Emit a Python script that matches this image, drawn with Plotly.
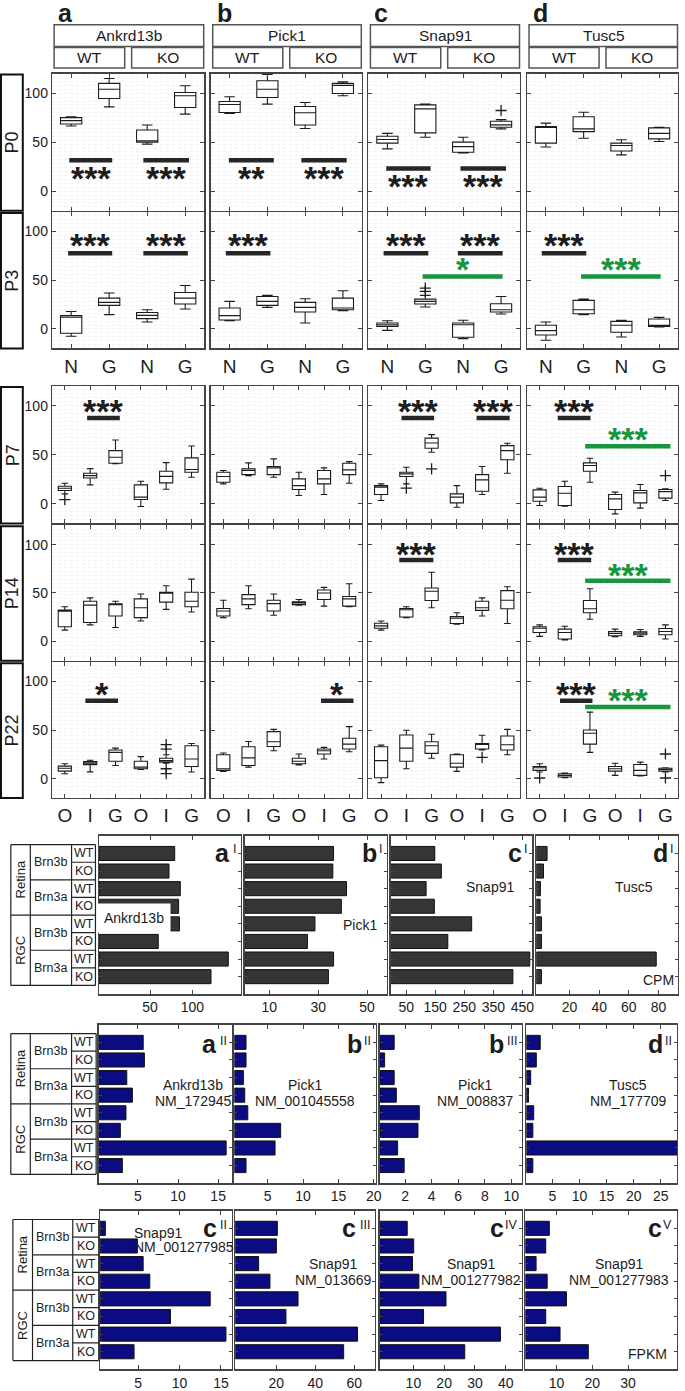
import plotly.graph_objects as go

W, H = 685, 1391

# ---------------- labels ----------------
genes = ["Ankrd13b", "Pick1", "Snap91", "Tusc5"]
panel_letters = ["a", "b", "c", "d"]
genotypes = ["WT", "KO"]
stages = ["P0", "P3", "P7", "P14", "P22"]
early_ticks = ["N", "G", "N", "G"]
late_ticks = ["O", "I", "G", "O", "I", "G"]
y_ticks = [0, 50, 100]

# ---------------- box statistics  [gene][group] ----------------
P0_lo = [[66.5, 86, 48, 78.6], [79.3, 88.8, 64, 97.3], [43.2, 55, 39, 63.6], [45, 54, 37, 50.7]]
P0_q1 = [[68.5, 94.6, 50, 85.4], [80.3, 95.6, 67.5, 99.7], [49, 59.5, 39.7, 65.3], [49, 60.8, 41, 53.4]]
P0_med = [[72, 104, 51.5, 97.3], [88.5, 104, 80, 108], [52.7, 84, 45.5, 67.6], [65.3, 63.6, 46.6, 59]]
P0_q3 = [[75, 110, 62.4, 100.7], [91.5, 112.6, 86.4, 110], [56, 88.1, 50, 71.4], [66, 76, 49, 64.6]]
P0_hi = [[76, 115, 67.5, 107.5], [96.3, 119, 90.5, 111.5], [59, 89, 55, 73], [69.4, 80.6, 52.4, 65.3]]
P0_out = [[], [], [[4, 82.3]], []]

P3_lo = [[-7.5, 14.7, 7.2, 20.5], [8.5, 22.2, 6.1, 18.8], [-1.4, 22.5, -9.9, 15.4], [-11.6, 14.7, -8.2, 2]]
P3_q1 = [[-4.4, 24.2, 10.6, 25.6], [9.2, 24.2, 17.4, 19.8], [2.7, 25.6, -8.5, 17.4], [-6.1, 15.7, -3.4, 2.7]]
P3_med = [[12, 27.3, 14, 31.7], [13.7, 28.3, 22.2, 21.5], [4.4, 28.3, 4.4, 19.8], [-1.7, 19.8, 3.8, 3.8]]
P3_q3 = [[13.7, 31.7, 17, 37.5], [21.5, 33.4, 27.3, 31.7], [6.1, 30.7, 6.1, 25.9], [3.8, 29.4, 7.8, 10.2]]
P3_hi = [[18, 36.9, 19.8, 44.7], [28.3, 34.5, 31, 39.2], [8.5, 34.5, 8.9, 33.4], [7.2, 30.7, 8.9, 11.9]]
P3_out = [[], [], [[2, 38.6], [2, 42]], []]

P7_lo = [[10.2, 19.3, 41, -2.7, 14.9, 27.1], [20.3, 28.8, 27.1, 8.5, 9.5, 21],
         [3.4, 20.3, 52.5, -3.4, 9.5, 31.2], [-1.7, -2.4, 22, -10.2, -4.4, 3.4]]
P7_q1 = [[13.6, 26.4, 41.4, 4.4, 21.4, 32.2], [22, 29.8, 29.8, 14.6, 20.3, 29.8],
         [9.5, 27.8, 56.6, 1, 12.9, 45], [2.7, -1.7, 33.2, -5.8, 1, 5.8]]
P7_med = [[15.9, 28.8, 47.5, 6.8, 28, 35], [27.8, 33.9, 36.6, 18.6, 25.4, 34.6],
          [17, 30.5, 62, 6.8, 24.4, 54.2], [6.8, 10.8, 39, 5.1, 11.2, 12.5]]
P7_q3 = [[18, 31.2, 54.2, 19.3, 33.2, 46.8], [32.2, 35.6, 38, 25.4, 33.9, 41.4],
         [18.6, 32.2, 67, 10.2, 29.8, 59.3], [14.2, 17.6, 41.7, 9.5, 13.6, 14.6]]
P7_hi = [[21, 35.9, 65, 23, 42, 59], [33.9, 41.7, 45.8, 32.2, 36.6, 43],
         [20.3, 37.3, 70.5, 18.6, 38, 61.7], [15.9, 23, 46.4, 11.9, 19.7, 15.3]]
P7_out = [[[1, 4.4]], [], [[2, 16], [3, 35.6]], [[6, 28.8]]]

P14_lo = [[11.6, 17, 14.3, 21, 33, 30.3], [24.5, 33.7, 26.9, 37.4, 36.4, 35.7],
          [11.6, 24.5, 34.7, 17.7, 26.2, 18.4], [5.1, 1.4, 22.8, 4.8, 5.1, 2.4]]
P14_q1 = [[15, 19.4, 26.2, 24.5, 40.5, 35.7], [26.2, 38, 31.3, 38, 43.2, 36.4],
          [13.6, 25.2, 42.2, 18.4, 32, 33.7], [9.2, 2.4, 29.6, 5.8, 6.8, 6.8]]
P14_med = [[31.3, 37.4, 38, 34.7, 50, 41.5], [31.3, 43.9, 39, 39.8, 50, 43.9],
           [16, 32.7, 51.7, 23.8, 34.7, 42.5], [13.6, 9.2, 33.7, 8.2, 8.5, 10.2]]
P14_q3 = [[32.3, 41.5, 38.8, 43.9, 50.7, 50.7], [34, 48.3, 42.5, 40.8, 53, 46.3],
          [18.7, 34, 55.1, 25.5, 41.5, 52.4], [15, 12.6, 42.2, 10.2, 9.9, 13.3]]
P14_hi = [[35.7, 44.9, 41.5, 49, 57.5, 64.3], [42.5, 57.5, 49, 43.2, 55.8, 59.5],
          [21, 35.7, 71.4, 29.6, 44.9, 56.5], [17, 15.6, 54.4, 12.6, 12.2, 17]]
P14_out = [[], [], [], []]

P22_lo = [[5.1, 7, 13.6, 9.5, 15.9, 6.8], [7.5, 11.9, 28.8, 14.2, 20.3, 27.8],
          [-4.1, 10.2, 21, 7.5, 29.5, 24.7], [6.8, 1, 27.1, 3.4, 2.7, 6.8]]
P22_q1 = [[7.8, 14.5, 18, 10.2, 17, 12.5], [8.5, 13.6, 33.2, 15.3, 25.4, 30.5],
          [1, 18, 26.1, 11.9, 30.5, 29.5], [8.5, 1.7, 35.6, 7.8, 3.4, 7.8]]
P22_med = [[10.8, 16, 27.1, 11.9, 18.6, 20.3], [10.2, 21.4, 38, 18, 28.8, 35.6],
           [18.6, 31.5, 33.9, 15.9, 35.6, 34.9], [11.2, 3.4, 46.8, 10.2, 8.5, 9.5]]
P22_q3 = [[12.9, 17.6, 29.5, 18, 21, 33.9], [24.7, 32.9, 48.5, 21, 30.5, 41.7],
          [32.9, 45, 38, 24.7, 36.3, 44], [12.5, 5.1, 50.2, 12.5, 14.6, 10.8]]
P22_hi = [[15.3, 19, 31.5, 22.7, 24.7, 36.3], [26.4, 38.3, 50.8, 25.4, 32.2, 53.6],
          [34.6, 49.8, 45.8, 25.4, 44.7, 50.8], [15.3, 5.8, 68.5, 15.9, 17, 11.2]]
P22_out = [[[5, 35], [5, 30.5], [5, 10.2], [5, 5.1]], [], [[5, 22]], [[1, 0.7], [6, 25.4], [6, 0.7]]]

# significance: [gene, from, to, level, stars, star level, colour]
P0_sig = [[0, 0.95, 2.08, 31.6, "***", 15.5, "k"], [0, 2.9, 4.1, 31.6, "***", 15.5, "k"],
          [1, 0.98, 2.17, 31.6, "**", 15.5, "k"], [1, 2.9, 4.1, 31.6, "***", 15.5, "k"],
          [2, 0.97, 2.14, 23.1, "***", 7.5, "k"], [2, 2.93, 4.13, 23.1, "***", 7.5, "k"]]
P3_sig = [[0, 0.92, 2.08, 77.8, "***", 88, "k"], [0, 2.9, 4.07, 77.8, "***", 88, "k"],
          [1, 0.9, 2.08, 77.8, "***", 88, "k"],
          [2, 0.9, 2.08, 77.8, "***", 88, "k"], [2, 2.86, 4.04, 77.8, "***", 88, "k"],
          [2, 1.93, 4.04, 53.9, "*", 63.5, "g"],
          [3, 0.89, 2.07, 77.8, "***", 88, "k"], [3, 1.93, 4.04, 53.9, "***", 63.5, "g"]]
P7_sig = [[0, 1.88, 3.17, 87.5, "***", 96.5, "k"],
          [2, 1.81, 3.1, 87.5, "***", 96.5, "k"], [2, 4.78, 6.09, 87.5, "***", 96.5, "k"],
          [3, 1.72, 3.02, 87.5, "***", 96.5, "k"], [3, 2.81, 6.2, 58.6, "***", 68, "g"]]
P14_sig = [[2, 1.72, 3.07, 84, "***", 92, "k"],
           [3, 1.72, 3.05, 84, "***", 92, "k"], [3, 2.81, 6.2, 62.6, "***", 71, "g"]]
P22_sig = [[0, 1.81, 3.1, 80.3, "*", 89, "k"], [1, 4.88, 6.17, 80.3, "*", 89, "k"],
           [3, 1.81, 3.1, 80.3, "***", 89, "k"], [3, 2.81, 6.2, 73.9, "***", 83, "g"]]

# ---------------- expression bars ----------------
bar_sources = ["Retina", "RGC"]
bar_lines = ["Brn3b", "Brn3a", "Brn3b", "Brn3a"]
bar_genotypes = ["WT", "KO", "WT", "KO", "WT", "KO", "WT", "KO"]

cpm_Ankrd13b = [79.1, 72.4, 85.7, 83.7, 84.7, 59.7, 142.3, 121.9]
cpm_Pick1 = [36.3, 36.0, 41.6, 39.5, 28.7, 25.6, 36.3, 34.2]
cpm_Snap91 = [148.5, 171.0, 118.7, 147.0, 275.4, 193.3, 475.4, 417.2]
cpm_Tusc5 = [4.8, 2.4, 0.3, 0.1, 1.0, 1.0, 78.5, 1.0]
cpm_ticks = [[50, 100], [10, 30, 50], [50, 150, 250, 350, 450], [20, 40, 60, 80]]

fpkm_Ankrd13b_NM_172945 = [5.65, 5.8, 3.6, 4.3, 3.5, 2.8, 16.0, 3.05]
fpkm_Pick1_NM_001045558 = [1.95, 1.95, 1.58, 1.77, 2.2, 6.84, 6.05, 1.95]
fpkm_Pick1_NM_008837 = [1.18, 0.46, 1.18, 1.34, 3.07, 2.97, 1.44, 1.93]
fpkm_Tusc5_NM_177709 = [2.76, 2.04, 1.0, 0.6, 1.56, 1.4, 29.0, 1.4]
fpkm_Snap91_NM_001277985 = [1.03, 4.9, 5.6, 6.4, 13.7, 8.9, 15.6, 4.5]
fpkm_Snap91_NM_013669 = [20.6, 20.1, 11.0, 16.8, 31.2, 25.0, 61.7, 54.6]
fpkm_Snap91_NM_001277982 = [8.0, 10.1, 9.7, 11.8, 20.6, 13.3, 38.3, 26.7]
fpkm_Snap91_NM_001277983 = [8.0, 7.0, 4.3, 7.4, 12.8, 7.0, 11.0, 18.9]
fpkm_ticks_row2 = [[5, 10, 15], [5, 10, 15, 20], [2, 4, 6, 8, 10], [5, 10, 15, 20, 25]]
fpkm_ticks_row3 = [[5, 10, 15], [20, 40, 60], [10, 20, 30, 40], [10, 20, 30]]

# ---------------- geometry (pixels) ----------------
box_cols_px = [(52.6, 206), (212.6, 365), (371.7, 524.6), (531.7, 684)]
box_rows_px = [(74, 212), (213.3, 350.5), (388.3, 526.5), (528.3, 664.5), (666, 802.7)]
bar_rows_px = [(840.7, 1000), (1030.7, 1190), (1217.7, 1377.3)]
bar_cols_px = [[(99.8, 243), (247, 390.5), (394, 537), (541, 684)],
               [(99.6, 233.8), (236.4, 379.3), (383.2, 526.6), (531, 683)],
               [(101, 233.8), (237.3, 378), (383.2, 526.6), (530, 683)]]
bar_ranges = [[(-10.2, 157.1), (0, 58.2), (-3.7, 484), (-2.5, 93.2)],
              [(0.1, 16.7), (0.3, 20.3), (0.1, 10.8), (0.2, 28)],
              [(0.4, 16.3), (-1, 70.5), (-0.9, 45.3), (1.3, 43.7)]]
table_cols_px = [[10.9, 30.6, 72.2, 96.3], [10.9, 30.6, 72.2, 97], [13, 32.8, 73.4, 99.6]]

FRAME = "#444444"
INK = "#1c1c1c"
GREEN = "#17963f"
FONT = "Liberation Sans, Arial, sans-serif"


def aid(i):
    return "" if i == 1 else str(i)


def frame_axis(**kw):
    d = dict(showline=True, linecolor=FRAME, linewidth=1.4, mirror="ticks",
             ticks="inside", tickcolor=FRAME, ticklen=4, tickwidth=1,
             zeroline=False, showgrid=False, fixedrange=True)
    d.update(kw)
    return d


fig = go.Figure()
axes = {}
shapes = []
annos = []


def text(x, y, s, size, **kw):
    d = dict(x=x / W, y=1 - y / H, xref="paper", yref="paper", text=s, showarrow=False,
             font=dict(size=size, color=INK, family=FONT), xanchor="center", yanchor="middle")
    d.update(kw)
    annos.append(d)


def rect(x0, y0, x1, y1, color="#555555", width=1.5):
    shapes.append(dict(type="rect", xref="paper", yref="paper", x0=x0 / W, x1=x1 / W,
                       y0=1 - y1 / H, y1=1 - y0 / H, line=dict(color=color, width=width),
                       fillcolor="rgba(0,0,0,0)"))


# ---------- headers ----------
for c, g in enumerate(genes):
    x0, x1 = box_cols_px[c]
    text(x0 + 4, 13.5, "<b>%s</b>" % panel_letters[c], 25, xanchor="left")
    rect(x0 + 2, 25, x1 - 0.5, 46.7)
    text((x0 + x1) / 2 + 1, 36, g, 15.5)
    mid = (x0 + x1) / 2
    rect(x0 + 2, 47.7, mid - 3.5, 68.3)
    rect(mid + 3.5, 47.7, x1 - 0.5, 68.3)
    text((x0 + 2 + mid - 3.5) / 2, 58, genotypes[0], 15.5)
    text((mid + 3.5 + x1) / 2, 58, genotypes[1], 15.5)

# ---------- box panels ----------
box_stats = {
    "P0": (P0_lo, P0_q1, P0_med, P0_q3, P0_hi, P0_out, P0_sig),
    "P3": (P3_lo, P3_q1, P3_med, P3_q3, P3_hi, P3_out, P3_sig),
    "P7": (P7_lo, P7_q1, P7_med, P7_q3, P7_hi, P7_out, P7_sig),
    "P14": (P14_lo, P14_q1, P14_med, P14_q3, P14_hi, P14_out, P14_sig),
    "P22": (P22_lo, P22_q1, P22_med, P22_q3, P22_hi, P22_out, P22_sig),
}
STAR = 34
idx = 0
for r, st in enumerate(stages):
    lo, q1, md, q3, hi, outs, sigs = box_stats[st]
    n = len(lo[0])
    labels = early_ticks if n == 4 else late_ticks
    y0, y1 = box_rows_px[r]
    # stage label box
    rect(1, y0 + 1, 23, y1, color="#111111", width=2)
    text(12.5, (y0 + y1) / 2, st, 18, textangle=-90)
    for c, g in enumerate(genes):
        idx += 1
        s = aid(idx)
        x0, x1 = box_cols_px[c]
        axes["xaxis" + s] = frame_axis(
            domain=[x0 / W, x1 / W], anchor="y" + s, range=[0.5, n + 0.5],
            tickvals=list(range(1, n + 1)), ticktext=labels,
            showticklabels=(r in (1, 4)), tickfont=dict(size=19, color=INK, family=FONT))
        axes["yaxis" + s] = frame_axis(
            domain=[1 - y1 / H, 1 - y0 / H], anchor="x" + s, range=[-20, 120],
            tickvals=y_ticks, showticklabels=(c == 0),
            tickfont=dict(size=14, color=INK, family=FONT),
            minor=dict(dtick=4, showgrid=True, gridcolor="#f1f1f1", griddash="dot",
                       gridwidth=1, ticks=""))
        pos = list(range(1, n + 1))
        fig.add_trace(go.Box(
            x=pos, q1=q1[c], median=md[c], q3=q3[c], lowerfence=lo[c], upperfence=hi[c],
            width=0.56 if n == 4 else 0.52, whiskerwidth=0.5, fillcolor="white",
            line=dict(color=INK, width=1.1), boxpoints=False, orientation="v",
            xaxis="x" + s, yaxis="y" + s, hoverinfo="skip"))
        if outs[c]:
            fig.add_trace(go.Scatter(
                x=[o[0] for o in outs[c]], y=[o[1] for o in outs[c]], mode="markers",
                marker=dict(symbol="cross-thin", size=8, line=dict(width=1.3, color=INK)),
                xaxis="x" + s, yaxis="y" + s, hoverinfo="skip"))
        for sg in sigs:
            if sg[0] != c:
                continue
            col = GREEN if sg[6] == "g" else "#262626"
            shapes.append(dict(type="line", xref="x" + s, yref="y" + s, x0=sg[1], x1=sg[2],
                               y0=sg[3], y1=sg[3], line=dict(color=col, width=4.5)))
            annos.append(dict(x=(sg[1] + sg[2]) / 2, y=sg[5], xref="x" + s, yref="y" + s,
                              text="<b>%s</b>" % sg[4], showarrow=False,
                              font=dict(size=STAR, color=GREEN if sg[6] == "g" else INK,
                                        family=FONT),
                              xanchor="center", yanchor="middle", yshift=-2))

# ---------- bar panels ----------
bar_values = [[cpm_Ankrd13b, cpm_Pick1, cpm_Snap91, cpm_Tusc5],
              [fpkm_Ankrd13b_NM_172945, fpkm_Pick1_NM_001045558, fpkm_Pick1_NM_008837,
               fpkm_Tusc5_NM_177709],
              [fpkm_Snap91_NM_001277985, fpkm_Snap91_NM_013669, fpkm_Snap91_NM_001277982,
               fpkm_Snap91_NM_001277983]]
bar_ticks = [cpm_ticks, fpkm_ticks_row2, fpkm_ticks_row3]
bar_letters = [["a", "b", "c", "d"], ["a", "b", "b", "d"], ["c", "c", "c", "c"]]
bar_numerals = [["I", "I", "I", "I"], ["II", "II", "III", "II"], ["II", "III", "IV", "V"]]
numeral_w = {"I": 4, "II": 8, "III": 12, "IV": 12, "V": 9}
bar_colors = ["#353535", "#0b0b82", "#0b0b82"]
letter_baseline = [867, 1058.3, 1243.3]
numeral_center = [854.2, 1046.7, 1232]
cats = list(range(1, 9))

for br in range(3):
    y0, y1 = bar_rows_px[br]
    first = None
    for bc in range(4):
        idx += 1
        s = aid(idx)
        if first is None:
            first = s
        x0, x1 = bar_cols_px[br][bc]
        lo_, hi_ = bar_ranges[br][bc]
        axes["xaxis" + s] = frame_axis(
            domain=[x0 / W, x1 / W], anchor="y" + s, range=[lo_, hi_],
            tickvals=bar_ticks[br][bc], tickfont=dict(size=14, color=INK, family=FONT))
        axes["yaxis" + s] = frame_axis(
            domain=[1 - y1 / H, 1 - y0 / H], anchor="x" + s, range=[9, 0],
            tickvals=cats, showticklabels=False, ticklen=3)
        vals = bar_values[br][bc]
        fig.add_trace(go.Bar(
            y=cats, x=[v - lo_ for v in vals], base=lo_, orientation="h", width=0.8,
            marker=dict(color=bar_colors[br], line=dict(color="#111111", width=1)),
            xaxis="x" + s, yaxis="y" + s, hoverinfo="skip"))
        # panel letter + numeral
        num = bar_numerals[br][bc]
        nx = x1 - 3
        text(nx, numeral_center[br], num, 12.5, xanchor="right")
        text(nx - numeral_w[num] - 1.5, letter_baseline[br] - 0.3465 * 25,
             "<b>%s</b>" % bar_letters[br][bc], 25, xanchor="right")
    # row-label table
    tx = table_cols_px[br]
    ref = "y" + first

    def tl(xa, xb, ya, yb):
        shapes.append(dict(type="line", xref="paper", yref=ref, x0=xa / W, x1=xb / W,
                           y0=ya, y1=yb, line=dict(color="#222222", width=1.2)))

    tl(tx[0], tx[3], 0.5, 0.5)
    tl(tx[0], tx[3], 8.5, 8.5)
    for xv in tx:
        tl(xv, xv, 0.5, 8.5)
    tl(tx[0], tx[3], 4.5, 4.5)
    for yv in (2.5, 6.5):
        tl(tx[1], tx[3], yv, yv)
    for yv in (1.5, 3.5, 5.5, 7.5):
        tl(tx[2], tx[3], yv, yv)
    common = dict(xref="paper", yref=ref, showarrow=False, xanchor="center", yanchor="middle")
    for k, src in enumerate(bar_sources):
        annos.append(dict(x=(tx[0] + tx[1]) / 2 / W, y=2.5 + 4 * k, text=src, textangle=-90,
                          font=dict(size=13, color=INK, family=FONT), **common))
    for k, ln in enumerate(bar_lines):
        annos.append(dict(x=(tx[1] + tx[2]) / 2 / W, y=1.5 + 2 * k, text=ln,
                          font=dict(size=12.5, color=INK, family=FONT), **common))
    for k, gt in enumerate(bar_genotypes):
        annos.append(dict(x=(tx[2] + tx[3]) / 2 / W, y=1 + k, text=gt,
                          font=dict(size=12.5, color=INK, family=FONT), **common))

# gene / transcript captions inside bar panels
text(135.5, 923.5, "Ankrd13b", 14, bgcolor="white", borderpad=6)
text(363, 930, "Pick1", 14)
text(494, 891.7, "Snap91", 14)
text(640, 891.7, "Tusc5", 14)
text(664, 986, "CPM", 14)
for cx, g, nm in [(194.6, "Ankrd13b", "NM_172945"), (308, "Pick1", "NM_001045558"),
                  (479.5, "Pick1", "NM_008837"), (634, "Tusc5", "NM_177709")]:
    text(cx, 1091.7, g, 14)
    text(cx, 1107.3, nm, 14)
text(159.5, 1240, "Snap91", 14)
text(186, 1254, "NM_001277985", 14)
for cx, nm in [(336, "NM_013669"), (475.6, "NM_001277982"), (624, "NM_001277983")]:
    text(cx, 1271.7, "Snap91", 14)
    text(cx, 1287.7, nm, 14)
text(653.5, 1361.7, "FPKM", 14)

fig.update_layout(
    width=W, height=H, margin=dict(l=0, r=0, t=0, b=0),
    paper_bgcolor="white", plot_bgcolor="white", showlegend=False,
    font=dict(family=FONT, color=INK), shapes=shapes, annotations=annos, **axes)

fig.write_html("out.html", config={"displayModeBar": False, "staticPlot": True},
               post_script="document.body.style.margin='0px';"
                           "document.body.style.overflow='hidden';")
